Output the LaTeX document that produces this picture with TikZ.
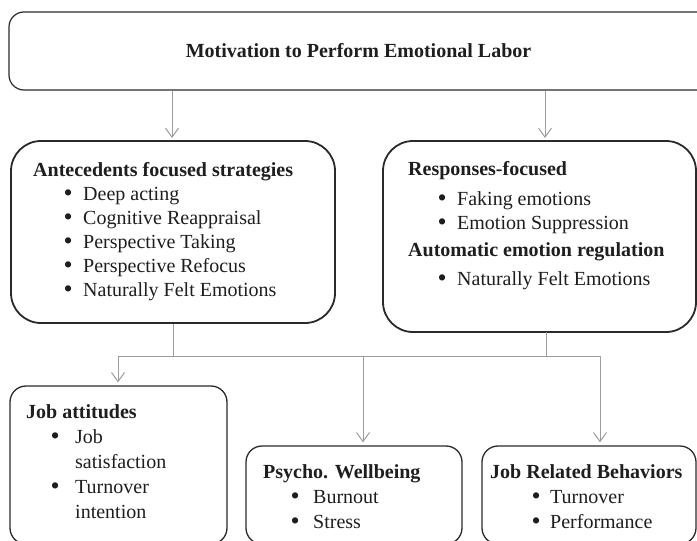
\documentclass[tikz,border=0pt]{standalone}
\usepackage{fontspec}
\setmainfont{Liberation Serif}
\usetikzlibrary{arrows.meta}

\definecolor{frame}{HTML}{2A2A2A}
\definecolor{link}{HTML}{9C9C9C}
\definecolor{ink}{HTML}{1E1E1E}

\tikzset{
  panel/.style={draw=frame, fill=white, inner sep=0pt, line width=1.3pt,
    font=\fontsize{20}{24}\selectfont, text=ink},
  bigpanel/.style={panel, rounded corners=30pt, line width=1.8pt},
  smallpanel/.style={panel, rounded corners=16pt},
  txt/.style={inner sep=0pt, anchor=base west, font=\fontsize{20}{24}\selectfont, text=ink},
  head/.style={txt, font=\fontsize{20}{24}\selectfont\bfseries},
  link/.style={draw=link, line width=1pt},
  arr/.style={link, -{Straight Barb[length=9pt,width=13pt,line width=1pt]}, shorten >=3pt}
}

% a slightly enlarged bullet, kept on the baseline
\newcommand\bigdot{\raisebox{-1.6pt}{\scalebox{1.3}{\textbullet}}}
% one bulleted line: name, bullet centre x, text x, baseline y, text
\newcommand\emitem[5]{%
  \node[txt] (#1) at (#2-4.55,#4)
    {\makebox[\dimexpr#3pt-#2pt+4.55pt\relax][l]{\bigdot}#5};
}

\begin{document}
\begin{tikzpicture}[x=1pt,y=-1pt]
\useasboundingbox (0,0) rectangle (697,541);
\clip (0,0) rectangle (697,541);

% ---- top box (runs past the right edge) ----------------------------
\node[panel, rounded corners=15pt, line width=1.2pt, minimum width=731pt,
      minimum height=78pt] (top) at (374.5,51) {};
\node[head, anchor=base] (title) at (358.5,57.5) {Motivation to Perform Emotional Labor};

% ---- strategy boxes -------------------------------------------------
\node[bigpanel, minimum width=324pt, minimum height=182pt] (ante) at (173,232) {};
\node[bigpanel, minimum width=313pt, minimum height=191pt] (resp) at (539.5,236.5) {};

\node[head] (anteh) at (33,176) {Antecedents focused strategies};
\emitem{a1}{68}{83}{200}{Deep acting}
\emitem{a2}{68}{83}{224}{Cognitive Reappraisal}
\emitem{a3}{68}{83}{248}{Perspective Taking}
\emitem{a4}{68}{83}{272}{Perspective Refocus}
\emitem{a5}{68}{83}{296}{Naturally Felt Emotions}

\node[head] (resph) at (408,175) {Responses-focused};
\emitem{r1}{442}{457}{205}{Faking emotions}
\emitem{r2}{442}{457}{229}{Emotion Suppression}
\node[head] (autoh) at (408,256) {Automatic emotion regulation};
\emitem{r3}{442}{457}{285}{Naturally Felt Emotions}

% ---- outcome boxes --------------------------------------------------
\node[smallpanel, minimum width=217pt, minimum height=158pt] (job) at (118.5,465) {};
\node[smallpanel, minimum width=216pt, minimum height=98pt] (psy) at (354,495) {};
\node[smallpanel, minimum width=214pt, minimum height=98pt] (jrb) at (589,495) {};

\node[head] (jobh) at (26,418) {Job attitudes};
\emitem{j1}{55}{75}{443}{Job}
\node[txt] (j1b) at (75,468) {satisfaction};
\emitem{j2}{55}{75}{493}{Turnover}
\node[txt] (j2b) at (75,518) {intention};

\node[head] (psyh) at (263,478) {Psycho. Wellbeing};
\emitem{p1}{295}{313}{503}{Burnout}
\emitem{p2}{295}{313}{528}{Stress}

\node[head] (jrbh) at (490,478) {Job Related Behaviors};
\emitem{b1}{536}{550}{503}{Turnover}
\emitem{b2}{536}{550}{528}{Performance}

% ---- connectors -----------------------------------------------------
\coordinate (lin) at (172,141);
\coordinate (rin) at (545,141);
\coordinate (rout) at (546,332);
\coordinate (busL) at (118,356);
\coordinate (busM) at (363,356);
\coordinate (busR) at (600,356);

\draw[arr] (top.south -| lin) -- (lin);
\draw[arr] (top.south -| rin) -- (rin);

\draw[link] (ante.south) -- (ante.south |- busL);
\draw[link] (rout) -- (rout |- busL);
\draw[link] (busL) -- (busR);

\draw[arr] (busL) -- (busL |- job.north);
\draw[arr] (busM) -- (busM |- psy.north);
\draw[arr] (busR) -- (busR |- jrb.north);
\end{tikzpicture}
\end{document}
